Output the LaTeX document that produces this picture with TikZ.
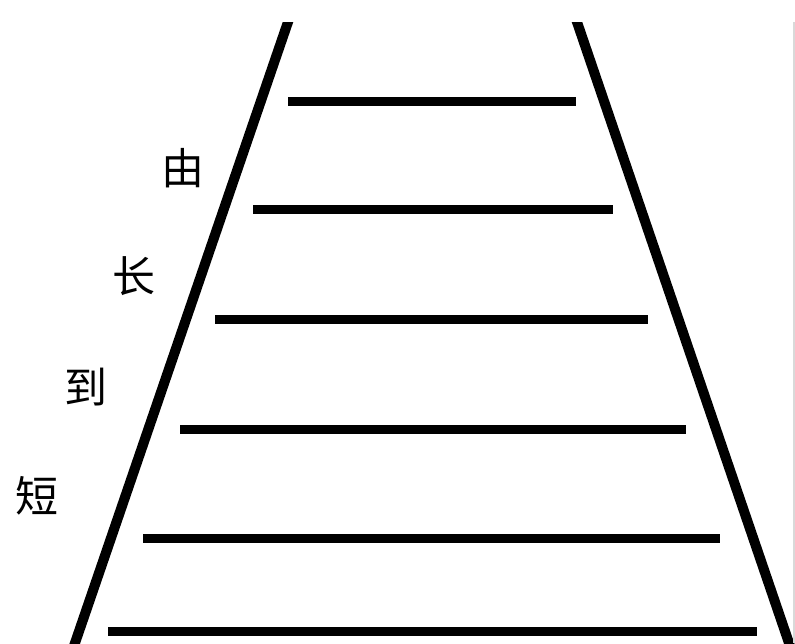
\documentclass[tikz,border=0pt]{standalone}
\usepackage{fontspec}
\usetikzlibrary{calc}
\newfontfamily\cjk{Noto Sans CJK SC}
\tikzset{
  side/.style={line width=10pt, black},
  rung/.style={line width=9pt, black, line cap=butt},
  lbl/.style={font=\cjk\fontsize{43pt}{45pt}\selectfont, inner sep=0pt},
}
\begin{document}
\begin{tikzpicture}[x=1pt,y=-1pt]
\useasboundingbox (0,0) rectangle (795,643);
\fill[white] (0,0) rectangle (795,643);
% sides
\begin{scope}
\clip (0,22) rectangle (795,643);
\coordinate (lt) at (288,22);
\coordinate (lb) at (75,643);
\coordinate (rt) at (577,22);
\coordinate (rb) at (789,643);
\draw[side] ($(lt)!-0.05!(lb)$) -- ($(lt)!1.05!(lb)$);
\draw[side] ($(rt)!-0.05!(rb)$) -- ($(rt)!1.05!(rb)$);
\end{scope}
\draw[line width=1.2pt, black!15] (794,22) -- (794,643);
% rungs
\draw[rung] (288,101) -- (576,101);
\draw[rung] (253,209) -- (613,209);
\draw[rung] (215,319) -- (648,319);
\draw[rung] (180,429) -- (686,429);
\draw[rung] (143,538) -- (720,538);
\draw[rung] (108,631) -- (757,631);
% labels
\node[lbl] (t1) at (183,168) {由};
\node[lbl] (t2) at (134,276) {长};
\node[lbl] (t3) at (86,387) {到};
\node[lbl] (t4) at (37,496) {短};
\end{tikzpicture}
\end{document}
